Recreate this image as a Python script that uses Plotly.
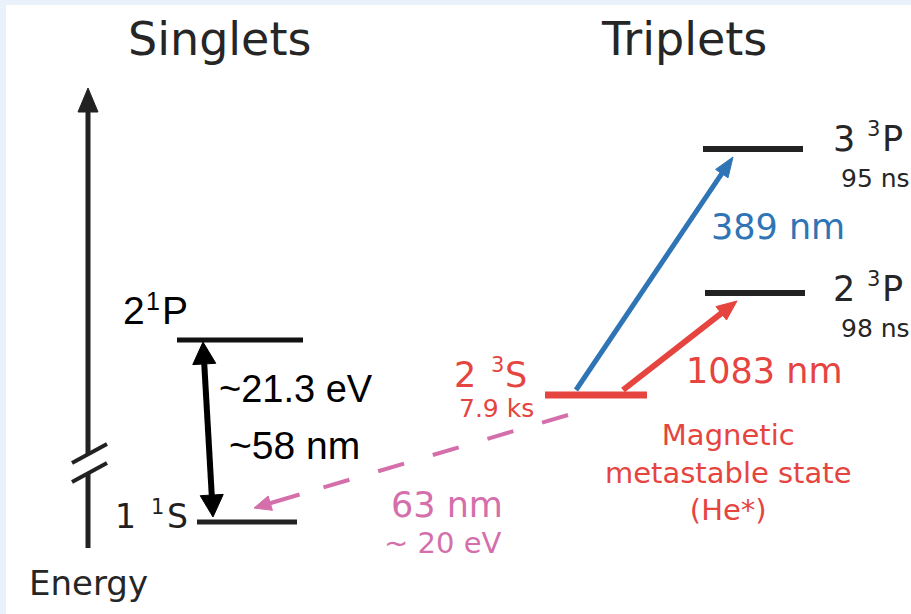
import numpy as np
import plotly.graph_objects as go

# ---------------------------------------------------------------
# Helium energy-level scheme (singlets / triplets), not to scale.
# Vertical coordinate = diagram height units (bottom = 0).
# ---------------------------------------------------------------

# energy levels: n, multiplicity (2S+1), L
level_n = ["1", "2", "2", "2", "3"]
level_mult = ["1", "1", "3", "3", "3"]
level_L = ["S", "P", "S", "P", "P"]
level_height = [92, 274, 219, 321, 465]
level_x0 = [197, 177, 545, 705, 703]
level_x1 = [297, 303, 647, 805, 803]
level_color = ["#222222", "#111111", "#e5443f", "#222222", "#222222"]
level_lw = [5, 5, 7, 6, 6]
level_lifetime = ["", "", "7.9 ks", "98 ns", "95 ns"]

# transitions: (from level, x on that level) -> (to level, x on that level)
trans_names = ["58 nm", "389 nm", "1083 nm", "63 nm"]
trans_from = [0, 2, 2, 2]
trans_to = [1, 4, 3, 0]
trans_x_from = [213, 576, 623, 568]
trans_x_to = [203, 733, 737, 254]
trans_color = ["#000000", "#2f74b5", "#e5443f", "#d46fab"]

# energy axis (with a break)
axis_x = 88
axis_bottom = 66
axis_break = [141, 159]
axis_top = 526

DEJAVU = "DejaVu Sans"
LIB = "Liberation Sans"
DARK = "#262626"
RED = "#e5443f"
BLUE = "#2f74b5"
PINK = "#d46fab"

fig = go.Figure()


def seg(xs, ys, color, width, dash="solid"):
    fig.add_trace(go.Scatter(x=xs, y=ys, mode="lines",
                             line=dict(color=color, width=width, dash=dash),
                             hoverinfo="skip", showlegend=False))


def head(tail, tip, color, length, width):
    """Filled triangular arrow head; returns the point where the shaft ends."""
    tail = np.asarray(tail, float)
    tip = np.asarray(tip, float)
    u = (tip - tail) / np.linalg.norm(tip - tail)
    n = np.array([-u[1], u[0]])
    base = tip - length * u
    p1 = base + n * width / 2
    p2 = base - n * width / 2
    fig.add_trace(go.Scatter(x=[tip[0], p1[0], p2[0], tip[0]],
                             y=[tip[1], p1[1], p2[1], tip[1]],
                             mode="lines", fill="toself", fillcolor=color,
                             line=dict(color=color, width=1),
                             hoverinfo="skip", showlegend=False))
    return base + u * 2


def arrow(tail, tip, color, lw, length, width, both=False):
    end = head(tail, tip, color, length, width)
    start = tail
    if both:
        start = head(tip, tail, color, length, width)
    seg([start[0], end[0]], [start[1], end[1]], color, lw)


# level bars
for h, x0, x1, c, lw in zip(level_height, level_x0, level_x1,
                            level_color, level_lw):
    seg([x0, x1], [h, h], c, lw)

# energy axis: lower stub, break marks, upper part with arrow
seg([axis_x, axis_x], [axis_bottom, axis_break[0]], "#222222", 5)
for dy in (-9, 10):
    seg([axis_x - 16, axis_x + 19],
        [axis_break[0] + dy, axis_break[0] + dy + 19], "#222222", 4)
arrow((axis_x, axis_break[1]), (axis_x, axis_top), "#222222", 5, 24, 20)

# transitions
for i, (f, t, xf, xt, c) in enumerate(zip(trans_from, trans_to, trans_x_from,
                                          trans_x_to, trans_color)):
    if i == 0:
        # 1 1S <-> 2 1P resonance line (double arrow)
        arrow((xf, level_height[f] + 5), (xt, level_height[t] - 2), c, 6,
              22, 23, both=True)
    elif i == 3:
        # 2 3S -> 1 1S forbidden decay, dashed
        y0 = level_height[f] - 20
        y1 = level_height[t] + 14
        xm = xf + (xt - xf) * 0.78
        ym = y0 + (y1 - y0) * 0.78
        seg([xf, xm], [y0, ym], c, 4, dash="27px,30px")
        frac = 0.855
        xs = xf + (xt - xf) * frac
        ys = y0 + (y1 - y0) * frac
        arrow((xs, ys), (xt, y1), c, 4, 17, 15)
    else:
        arrow((xf, level_height[f] + 5), (xt, level_height[t] - 8), c,
              5 if i == 1 else 6, 20, 15 if i == 1 else 17)

annotations = []


def label(text, x, y, size, color, font=DEJAVU, xanchor="left", align="left"):
    annotations.append(dict(x=x, y=y, xref="x", yref="y", text=text,
                            showarrow=False, xanchor=xanchor, yanchor="middle",
                            align=align,
                            font=dict(family=font, size=size, color=color)))


def term(i, xs, y, size, sup_size, color, font=DEJAVU, sup_dy=10):
    """Term symbol n ^(2S+1) L, each glyph centred on its own x."""
    label(level_n[i], xs[0], y, size, color, font, xanchor="center")
    label(level_mult[i], xs[1], y + sup_dy, sup_size, color, font,
          xanchor="center")
    label(level_L[i], xs[2], y, size, color, font, xanchor="center")


label("Singlets", 219, 575.5, 46, DARK, xanchor="center")
label("Triplets", 684, 575.5, 46, DARK, xanchor="center")
label("Energy", 88, 31.5, 34, DARK, xanchor="center")

# singlet terms
term(1, [134, 153, 175], 304, 39, 25, "#000000", font=LIB, sup_dy=9)
term(0, [125, 157, 177], 97.5, 33, 21, "#231f20", sup_dy=10)
label("~21.3 eV", 217, 225, 38, "#000000", font=LIB)
label("~58 nm", 227, 169, 39, "#000000", font=LIB)

# triplet terms
term(2, [464.5, 497.5, 516], 239, 35, 21, RED, sup_dy=10)
label(level_lifetime[2], 536, 206, 25, RED, xanchor="right")
term(4, [844, 873.5, 892.5], 475.5, 35, 21, DARK, sup_dy=10)
label(level_lifetime[4], 839, 436, 25, DARK)
term(3, [844, 873.5, 892.5], 325, 35, 21, DARK, sup_dy=10)
label(level_lifetime[3], 839, 286, 25, DARK)

label(trans_names[1], 709, 387.5, 35, BLUE)
label(trans_names[2], 684, 243.5, 35, RED)
label("Magnetic<br>metastable state<br>(He*)", 728, 142, 29, RED,
      xanchor="center", align="center")
label(trans_names[3], 389, 109, 35, PINK)
label("~ 20 eV", 382, 71.5, 29, PINK)

fig.update_layout(
    width=911, height=614,
    margin=dict(l=6, t=5, r=0, b=0, pad=0),
    paper_bgcolor="#ebf1fa",
    plot_bgcolor="#ffffff",
    xaxis=dict(range=[6, 911], visible=False, fixedrange=True),
    yaxis=dict(range=[0, 609], visible=False, fixedrange=True),
    annotations=annotations,
    showlegend=False,
)

fig.write_html("out.html")
